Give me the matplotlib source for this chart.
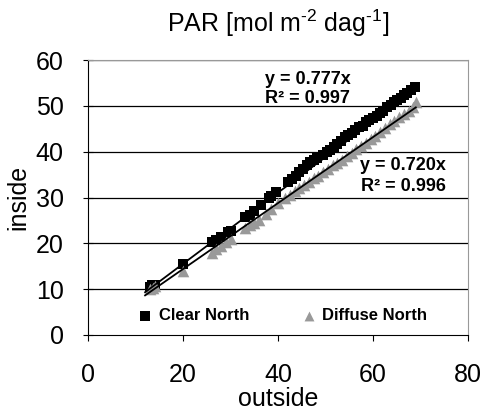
import matplotlib
matplotlib.use('Agg')
import matplotlib.pyplot as plt
import numpy as np

plt.rcParams['font.family'] = ['Liberation Sans', 'DejaVu Sans']
plt.rcParams['mathtext.default'] = 'regular'

# Clear North (squares)
clear_x = [13.0, 13.5, 14.0, 20.0, 26.0, 27.0, 28.0, 29.5, 30.0, 33.0, 34.0, 35.0,
           36.5, 38.0, 38.5, 39.5, 42.0, 43.0, 43.8, 44.5, 45.2, 46.0, 46.8, 47.5,
           48.2, 49.5, 50.3, 51.0, 51.8, 52.5, 53.2, 54.0, 54.8, 55.5, 56.2, 57.0,
           57.8, 58.5, 59.2, 60.0, 60.8, 61.5, 62.2, 63.0, 63.7, 64.4, 65.0, 65.8,
           66.5, 67.2, 68.0, 68.8]
clear_y = [10.4, 10.8, 11.0, 15.6, 20.2, 20.8, 21.3, 22.4, 22.8, 25.8, 26.3, 27.0,
           28.3, 30.0, 30.3, 31.2, 33.3, 34.0, 34.8, 35.5, 36.2, 37.0, 37.8, 38.3,
           38.7, 39.3, 40.0, 40.3, 41.0, 41.7, 42.3, 43.2, 43.6, 44.1, 44.7, 45.3,
           45.6, 46.4, 47.0, 47.4, 47.8, 48.5, 49.0, 49.8, 50.2, 50.8, 51.2, 51.8,
           52.4, 52.8, 53.4, 54.2]

# Diffuse North (triangles)
diff_x = [13.0, 13.6, 14.0, 20.0, 26.0, 27.0, 28.0, 29.0, 30.0, 33.0, 34.0, 35.0,
          36.0, 37.5, 38.5, 40.0, 41.5, 42.5, 43.5, 44.5, 45.5, 46.5, 47.5, 48.5,
          49.5, 50.5, 51.5, 52.5, 53.5, 54.5, 55.5, 56.5, 57.5, 58.5, 59.5, 60.5,
          61.5, 62.5, 63.5, 64.5, 65.5, 66.5, 67.5, 68.5, 69.0]
diff_y = [10.0, 10.3, 10.6, 14.0, 18.0, 18.8, 19.5, 20.2, 21.0, 23.3, 24.0, 24.5,
          25.2, 26.5, 27.5, 28.8, 29.8, 30.5, 31.4, 32.0, 32.8, 33.5, 34.2, 34.7,
          35.6, 36.2, 37.0, 37.6, 38.3, 39.0, 39.8, 40.5, 41.3, 42.0, 42.8, 43.5,
          44.4, 45.2, 46.0, 46.8, 47.6, 48.2, 49.0, 49.8, 50.8]

slope_clear = 0.777
slope_diff = 0.720

fig = plt.figure(figsize=(4.84, 4.12), dpi=100)
ax = fig.add_axes([0.182, 0.187, 0.785, 0.667])

for y in range(10, 61, 10):
    ax.axhline(y, color='black', lw=0.9, zorder=0)

ax.scatter(clear_x, clear_y, marker='s', s=60, color='black', zorder=2,
           label='Clear North', linewidths=0)
ax.scatter(diff_x, diff_y, marker='^', s=70, color='#999999', zorder=3,
           label='Diffuse North', linewidths=0)

xs = np.array([12, 69])
ax.plot(xs, slope_clear * xs, color='black', lw=1.3, zorder=4)
ax.plot(xs, slope_diff * xs, color='black', lw=1.3, zorder=4)

kw = dict(ha='center', va='center', fontsize=13, fontweight='bold')
ax.text(46.2, 55.7, 'y = 0.777x', **kw)
ax.text(46.2, 51.7, 'R² = 0.997', **kw)
ax.text(66.3, 36.9, 'y = 0.720x', **kw)
ax.text(66.3, 32.5, 'R² = 0.996', **kw)

ax.set_xlim(0, 80)
ax.set_ylim(0, 60)
ax.set_xticks([0, 20, 40, 60, 80])
ax.set_yticks([0, 10, 20, 30, 40, 50, 60])
ax.tick_params(labelsize=18, length=4, color='black')
ax.tick_params(axis='x', direction='out', pad=16)
ax.tick_params(axis='y', direction='inout', length=7, pad=14)
ax.spines['top'].set_color('#999999')
ax.spines['right'].set_color('#999999')
ax.set_xlabel('outside', fontsize=18, labelpad=0)
ax.set_ylabel('inside', fontsize=18, labelpad=4)
ax.set_title('PAR [mol m$^{\u20102}$ dag$^{\u20101}$]', fontsize=18, pad=20)

ax.legend(loc='center', bbox_to_anchor=(0.5, 0.069), ncol=2,
          frameon=False, prop={'weight': 'bold', 'size': 12}, handletextpad=-0.2,
          columnspacing=2.6, markerscale=0.85, borderaxespad=0)

fig.savefig('out.png', dpi=100)
